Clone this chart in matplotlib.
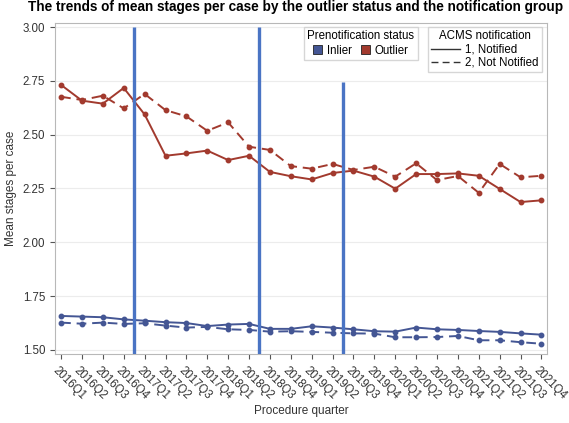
import matplotlib.pyplot as plt
from matplotlib.lines import Line2D
from matplotlib.patches import Patch
from matplotlib.transforms import ScaledTranslation

# 四半期ラベル
quarters = ['2016Q1', '2016Q2', '2016Q3', '2016Q4',
            '2017Q1', '2017Q2', '2017Q3', '2017Q4',
            '2018Q1', '2018Q2', '2018Q3', '2018Q4',
            '2019Q1', '2019Q2', '2019Q3', '2019Q4',
            '2020Q1', '2020Q2', '2020Q3', '2020Q4',
            '2021Q1', '2021Q2', '2021Q3', '2021Q4']

# Outlier
outlier_notified = [2.731, 2.658, 2.644, 2.717, 2.594, 2.402, 2.413, 2.426,
                    2.382, 2.402, 2.327, 2.307, 2.292, 2.322, 2.333, 2.305,
                    2.249, 2.317, 2.317, 2.320, 2.309, 2.248, 2.187, 2.195]
outlier_not_notified = [2.676, 2.661, 2.681, 2.622, 2.689, 2.614, 2.585, 2.518,
                        2.557, 2.444, 2.429, 2.354, 2.342, 2.364, 2.336, 2.351,
                        2.305, 2.367, 2.289, 2.308, 2.230, 2.364, 2.302, 2.309]

# Inlier
inlier_notified = [1.658, 1.655, 1.652, 1.642, 1.636, 1.629, 1.625, 1.611,
                   1.618, 1.621, 1.598, 1.598, 1.610, 1.604, 1.596, 1.587,
                   1.585, 1.604, 1.596, 1.593, 1.588, 1.584, 1.577, 1.571]
inlier_not_notified = [1.627, 1.622, 1.627, 1.621, 1.624, 1.613, 1.604, 1.607,
                       1.596, 1.593, 1.585, 1.587, 1.584, 1.580, 1.577, 1.576,
                       1.559, 1.559, 1.560, 1.565, 1.545, 1.545, 1.536, 1.529]

# 縦の参照線 (位置, 上端)
ref_pos = [3.5, 9.5, 13.5]
ref_top = [3.0, 3.0, 2.745]

inlier_color = '#445694'
outlier_color = '#a23a2e'
ref_color = '#4a74c4'
text_color = '#333333'

plt.rcParams['font.family'] = ['Liberation Sans', 'DejaVu Sans']

fig = plt.figure(figsize=(5.69, 4.23), dpi=100)
ax = fig.add_axes([0.0967, 0.163, 0.864, 0.7826])

x = list(range(len(quarters)))
dash = (0, (5, 3))
ax.plot(x, inlier_notified, color=inlier_color, lw=1.4, marker='o', ms=3.2)
ax.plot(x, inlier_not_notified, color=inlier_color, lw=1.4, ls=dash, marker='o', ms=3.2)
ax.plot(x, outlier_notified, color=outlier_color, lw=1.4, marker='o', ms=3.2)
ax.plot(x, outlier_not_notified, color=outlier_color, lw=1.4, ls=dash, marker='o', ms=3.2)

ymin, ymax = 1.481, 3.0186
for p, t in zip(ref_pos, ref_top):
    ax.vlines(p, ymin, t, color=ref_color, lw=2.4, zorder=3)

ax.set_xlim(-0.29, 23.25)
ax.set_ylim(ymin, ymax)
ax.set_yticks([1.50, 1.75, 2.00, 2.25, 2.50, 2.75, 3.00])
ax.set_yticklabels(['1.50', '1.75', '2.00', '2.25', '2.50', '2.75', '3.00'])
ax.set_xticks(x)
ax.set_xticklabels(quarters, rotation=-45, ha='left', va='center', rotation_mode='anchor')
ax.tick_params(labelsize=8.3, colors='#555555', labelcolor=text_color, length=3.5)
# ラベルを少し左下へずらす
offset = ScaledTranslation(-0.06, -0.05, fig.dpi_scale_trans)
for lab in ax.get_xticklabels():
    lab.set_transform(lab.get_transform() + offset)
ax.grid(axis='y', color='#ececec', lw=0.8)
ax.set_axisbelow(True)
for s in ax.spines.values():
    s.set_color('#b8b8b8')

ax.set_xlabel('Procedure quarter', fontsize=8.5, color=text_color, labelpad=2)
ax.set_ylabel('Mean stages per case', fontsize=8.5, color=text_color, labelpad=4)

fig.text(0.049, 0.983, 'The trends of mean stages per case by the outlier status and the notification group',
         fontsize=9.8, fontweight='bold', ha='left', va='center', color='black')

# 凡例
h1 = [Patch(facecolor=inlier_color, edgecolor='#222222', lw=0.6),
      Patch(facecolor=outlier_color, edgecolor='#222222', lw=0.6)]
leg1 = ax.legend(h1, ['Inlier', 'Outlier'], title='Prenotification status', ncol=2,
                 loc='upper left', bbox_to_anchor=(0.506, 0.988), borderaxespad=0,
                 fontsize=8.3, title_fontsize=8.3, frameon=True, fancybox=False,
                 edgecolor='#cccccc', handlelength=0.8, handleheight=0.8,
                 handletextpad=0.4, columnspacing=0.8, borderpad=0.3, labelspacing=0.2)
ax.add_artist(leg1)
h2 = [Line2D([], [], color='#333333', lw=1.0),
      Line2D([], [], color='#333333', lw=1.0, ls=(0, (5, 3)))]
ax.legend(h2, ['1, Notified', '2, Not Notified'], title='ACMS notification',
          loc='upper right', bbox_to_anchor=(0.99, 0.988), borderaxespad=0,
          fontsize=8.3, title_fontsize=8.3, frameon=True, fancybox=False,
          edgecolor='#cccccc', handlelength=2.5, handletextpad=0.4,
          borderpad=0.3, labelspacing=0.1)

fig.savefig('out.png', dpi=100)
